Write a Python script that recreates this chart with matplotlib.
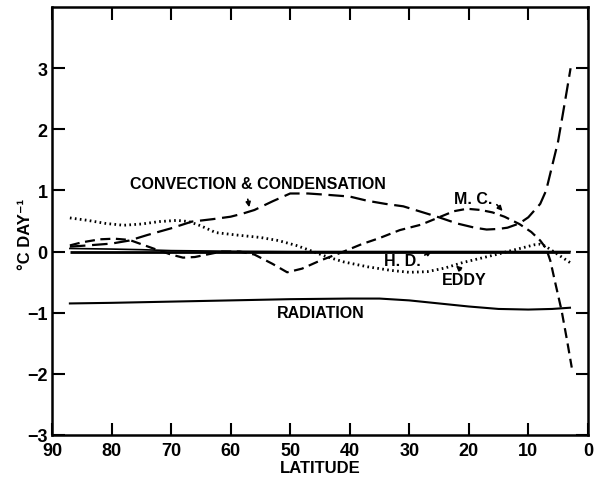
import matplotlib
matplotlib.use("Agg")
import matplotlib.pyplot as plt

plt.rcParams['font.family'] = ['Liberation Sans', 'DejaVu Sans']
plt.rcParams['font.weight'] = 'bold'

# values (latitude, deg C per day)
conv_lat = [87, 84, 80, 77, 74, 70, 66.5, 63, 60, 58, 56, 53, 50, 47, 44, 40, 37, 34, 31, 28,
            25, 22, 19, 17, 15, 13.5, 11.5, 10, 8, 7, 6, 5, 4.2, 3.5, 2.9]
conv_val = [0.08, 0.10, 0.13, 0.18, 0.27, 0.38, 0.49, 0.53, 0.57, 0.62, 0.68, 0.82, 0.95, 0.95,
            0.93, 0.90, 0.83, 0.78, 0.74, 0.65, 0.56, 0.46, 0.39, 0.36, 0.37, 0.39, 0.46, 0.56,
            0.78, 1.0, 1.4, 1.8, 2.25, 2.65, 3.0]

mc_lat = [87, 85, 82, 79.5, 77, 75, 72.7, 70, 68, 66, 64, 61.5, 58.5, 56, 53, 50.5, 48, 45, 41,
          38, 35, 31.6, 28, 25, 22.5, 20.3, 18, 16, 14, 11.5, 9.5, 8, 7, 6.3, 5.5, 4.4, 3.5, 2.7]
mc_val = [0.10, 0.15, 0.20, 0.21, 0.19, 0.12, 0.04, -0.05, -0.10, -0.09, -0.05, 0.0, 0.0, -0.05,
          -0.20, -0.34, -0.28, -0.15, 0.0, 0.12, 0.22, 0.35, 0.44, 0.56, 0.66, 0.70, 0.68, 0.64,
          0.57, 0.45, 0.32, 0.18, 0.05, -0.15, -0.5, -0.97, -1.45, -1.9]

eddy_lat = [87, 84, 81, 78, 75, 72, 69, 67, 65, 62.5, 59, 55, 52, 49, 47, 44, 41, 37, 33, 30,
            27, 24, 21, 18, 15, 13.5, 11, 9, 8, 7, 5, 3]
eddy_val = [0.55, 0.51, 0.46, 0.43, 0.45, 0.49, 0.51, 0.49, 0.42, 0.31, 0.27, 0.23, 0.18, 0.10,
            0.03, -0.08, -0.17, -0.25, -0.31, -0.34, -0.33, -0.27, -0.18, -0.11, -0.04, 0.0,
            0.06, 0.11, 0.12, 0.08, -0.05, -0.18]

rad_lat = [87, 80, 70, 60, 50, 40, 35, 30, 25, 20, 15, 10, 6, 3]
rad_val = [-0.85, -0.84, -0.82, -0.80, -0.78, -0.77, -0.77, -0.80, -0.85, -0.90, -0.94, -0.95,
           -0.94, -0.92]

hd_lat = [87, 80, 75, 70, 60, 50, 3]
hd_val = [0.05, 0.04, 0.03, 0.015, 0.005, 0.0, 0.0]

fig = plt.figure(figsize=(5.98, 4.81), dpi=100)
ax = fig.add_axes([0.087, 0.094, 0.896, 0.889])

ax.hlines(0, hd_lat[0], hd_lat[-1], color='black', lw=2.0)
ax.plot(hd_lat, hd_val, color='black', lw=1.2)
ax.plot(rad_lat, rad_val, color='black', lw=1.5)
ax.plot(conv_lat, conv_val, color='black', lw=1.6, dashes=(7, 3))
ax.plot(mc_lat, mc_val, color='black', lw=1.6, dashes=(4.5, 2.5))
ax.plot(eddy_lat, eddy_val, color='black', lw=2.0, linestyle=(0, (0.6, 1.2)))

ax.set_xlim(90, 0)
ax.set_ylim(-3, 4)
ax.set_xticks(range(90, -1, -10))
ax.set_yticks(range(-3, 4))
ax.tick_params(direction='in', length=9, width=1.5, top=True, right=True,
               labelsize=13, pad=3)
ax.tick_params(axis='x', pad=5)
for lab in ax.get_xticklabels() + ax.get_yticklabels():
    lab.set_fontweight('bold')
for s in ax.spines.values():
    s.set_linewidth(1.8)

ax.set_xlabel('LATITUDE', fontsize=12, fontweight='bold', labelpad=1)
ax.set_ylabel('°C DAY⁻¹', fontsize=12, fontweight='bold')
ax.yaxis.set_label_coords(-0.036, 0.47)

tkw = dict(fontsize=11.5, fontweight='bold', ha='center', va='center')
arr = dict(arrowstyle='-|>', color='black', lw=1.2, mutation_scale=7)
ax.text(55.4, 1.11, 'CONVECTION & CONDENSATION', **tkw)
ax.annotate('', xy=(56.8, 0.68), xytext=(57.2, 0.9), arrowprops=arr)
ax.text(19.2, 0.86, 'M. C.', **tkw)
ax.annotate('', xy=(14, 0.63), xytext=(15.6, 0.8), arrowprops=arr)
ax.text(31.2, -0.15, 'H. D.', **tkw)
ax.annotate('', xy=(25.8, 0.03), xytext=(27.8, -0.08), arrowprops=arr)
ax.text(20.8, -0.45, 'EDDY', **tkw)
ax.annotate('', xy=(22.5, -0.2), xytext=(21, -0.33), arrowprops=arr)
ax.text(44.8, -1.0, 'RADIATION', **tkw)

fig.savefig('out.png', dpi=100)
